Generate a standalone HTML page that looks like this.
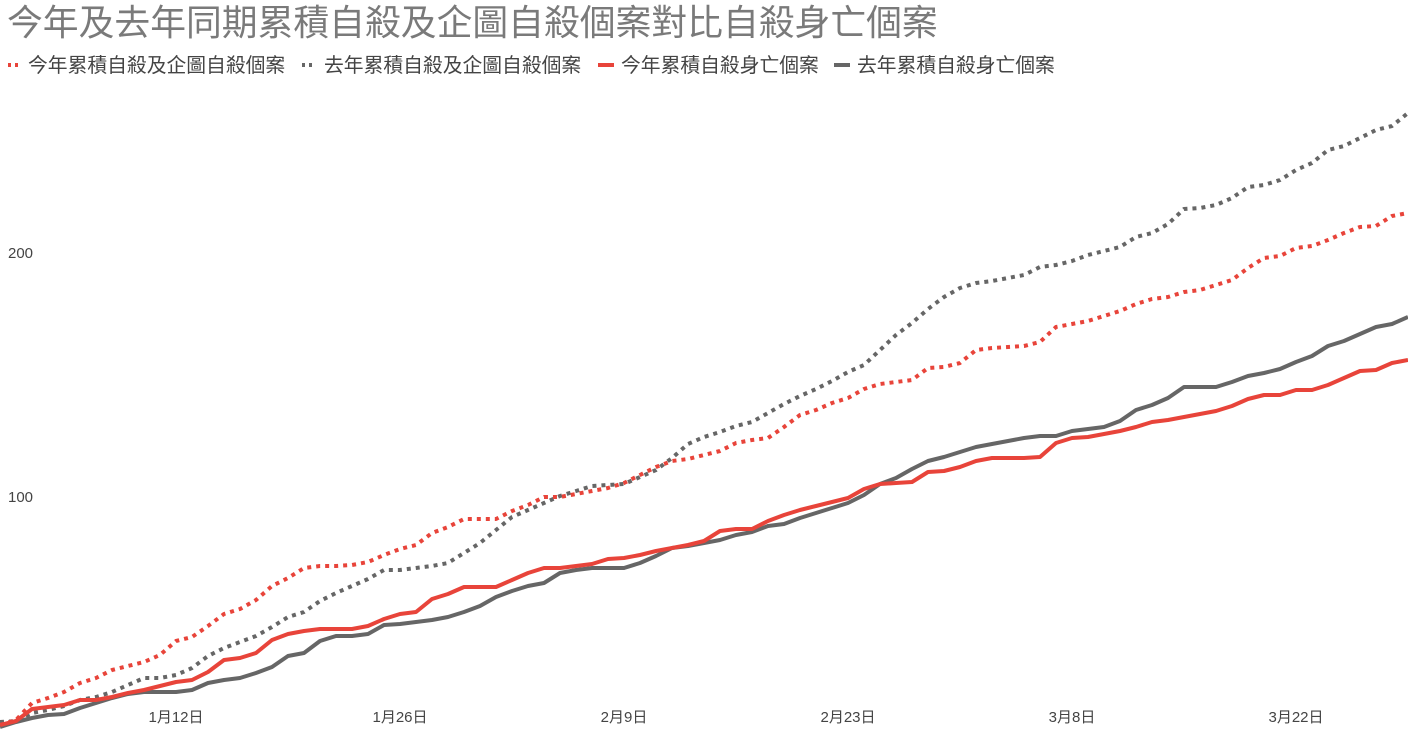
<!DOCTYPE html>
<html><head><meta charset="utf-8"><style>
body{margin:0;background:#fff;width:1408px;height:731px;overflow:hidden;font-family:"Liberation Sans","Noto Sans CJK TC",sans-serif}
</style></head><body>
<svg width="1408" height="731" xmlns="http://www.w3.org/2000/svg" style="position:absolute;left:0;top:0;font-family:'Liberation Sans','Noto Sans CJK TC',sans-serif">
<text x="7" y="35" font-size="35.8" fill="#7a7a7a">今年及去年同期累積自殺及企圖自殺個案對比自殺身亡個案</text>
<g font-size="19.8" fill="#444">
<line x1="8" y1="65" x2="22" y2="65" stroke="#e8443a" stroke-width="4" stroke-dasharray="3,4"/>
<text x="28" y="72">今年累積自殺及企圖自殺個案</text>
<line x1="302" y1="65" x2="316" y2="65" stroke="#666" stroke-width="4" stroke-dasharray="3,4"/>
<text x="324" y="72">去年累積自殺及企圖自殺個案</text>
<line x1="598" y1="65" x2="614" y2="65" stroke="#e8443a" stroke-width="4"/>
<text x="621" y="72">今年累積自殺身亡個案</text>
<line x1="834" y1="65" x2="850" y2="65" stroke="#666" stroke-width="4"/>
<text x="857" y="72">去年累積自殺身亡個案</text>
</g>
<g font-size="15" fill="#444">
<text x="8" y="258">200</text><text x="8" y="502">100</text>
<text x="176" y="722" text-anchor="middle">1月12日</text>
<text x="400" y="722" text-anchor="middle">1月26日</text>
<text x="624" y="722" text-anchor="middle">2月9日</text>
<text x="848" y="722" text-anchor="middle">2月23日</text>
<text x="1072" y="722" text-anchor="middle">3月8日</text>
<text x="1296" y="722" text-anchor="middle">3月22日</text>
</g>
<g fill="none" stroke-width="4" stroke-linejoin="round">
<polyline stroke="#666" stroke-dasharray="4,5" points="0,722 16,721 32,713 48,710 64,706 80,700 96,697 112,692 128,685 144,678 160,678 176,675 192,668 208,656 224,648 240,642 256,636 272,627 288,617 304,612 320,601 336,593 352,586 368,579 384,570 400,570 416,568 432,566 448,563 464,553 480,543 496,530 512,517 528,510 544,503 560,496 576,491 592,486 608,485 624,484 640,477 656,470 672,458 688,444 704,437 720,432 736,426 752,422 768,413 784,404 800,396 816,389 832,381 848,372 864,365 880,350 896,335 912,323 928,309 944,297 960,288 976,283 992,281 1008,278 1024,275 1040,267 1056,265 1072,261 1088,255 1104,251 1120,247 1136,237 1152,233 1168,224 1184,209 1200,208 1216,205 1232,198 1248,187 1264,185 1280,180 1296,170 1312,163 1328,150 1344,146 1360,138 1376,130 1392,126 1408,113"/>
<polyline stroke="#e8443a" stroke-dasharray="4,5" points="0,725 16,720 32,703 48,698 64,692 80,683 96,678 112,670 128,666 144,662 160,655 176,641 192,637 208,626 224,614 240,609 256,600 272,586 288,578 304,568 320,566 336,566 352,565 368,562 384,555 400,549 416,545 432,533 448,527 464,519 480,519 496,519 512,511 528,505 544,497 560,497 576,494 592,491 608,488 624,483 640,475 656,467 672,461 688,459 704,455 720,451 736,443 752,440 768,438 784,427 800,415 816,410 832,403 848,398 864,389 880,384 896,382 912,380 928,368 944,367 960,363 976,350 992,348 1008,347 1024,346 1040,342 1056,327 1072,324 1088,321 1104,316 1120,311 1136,304 1152,299 1168,297 1184,292 1200,290 1216,285 1232,280 1248,268 1264,258 1280,256 1296,248 1312,246 1328,240 1344,233 1360,227 1376,226 1392,216 1408,213"/>
<polyline stroke="#666" points="0,727 16,722 32,718 48,715 64,714 80,708 96,703 112,698 128,694 144,692 160,692 176,692 192,690 208,683 224,680 240,678 256,673 272,667 288,656 304,653 320,641 336,636 352,636 368,634 384,625 400,624 416,622 432,620 448,617 464,612 480,606 496,597 512,591 528,586 544,583 560,573 576,570 592,568 608,568 624,568 640,563 656,556 672,548 688,546 704,543 720,540 736,535 752,532 768,526 784,524 800,518 816,513 832,508 848,503 864,495 880,484 896,478 912,469 928,461 944,457 960,452 976,447 992,444 1008,441 1024,438 1040,436 1056,436 1072,431 1088,429 1104,427 1120,421 1136,410 1152,405 1168,398 1184,387 1200,387 1216,387 1232,382 1248,376 1264,373 1280,369 1296,362 1312,356 1328,346 1344,341 1360,334 1376,327 1392,324 1408,317"/>
<polyline stroke="#e8443a" points="0,725 16,721 32,709 48,707 64,705 80,700 96,700 112,697 128,693 144,690 160,686 176,682 192,680 208,672 224,660 240,658 256,653 272,640 288,634 304,631 320,629 336,629 352,629 368,626 384,619 400,614 416,612 432,599 448,594 464,587 480,587 496,587 512,580 528,573 544,568 560,568 576,566 592,564 608,559 624,558 640,555 656,551 672,548 688,545 704,541 720,531 736,529 752,529 768,521 784,515 800,510 816,506 832,502 848,498 864,489 880,484 896,483 912,482 928,472 944,471 960,467 976,461 992,458 1008,458 1024,458 1040,457 1056,443 1072,438 1088,437 1104,434 1120,431 1136,427 1152,422 1168,420 1184,417 1200,414 1216,411 1232,406 1248,399 1264,395 1280,395 1296,390 1312,390 1328,385 1344,378 1360,371 1376,370 1392,363 1408,360"/>
</g>
</svg>
</body></html>
